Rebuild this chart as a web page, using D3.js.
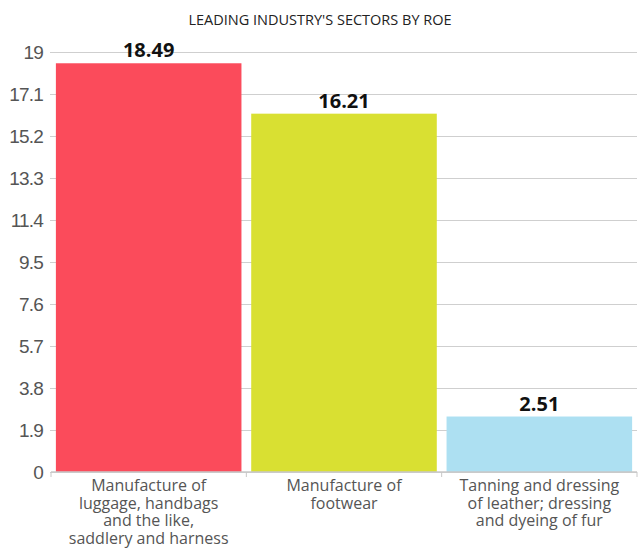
<!DOCTYPE html>
<html>
<head>
<meta charset="utf-8">
<script src="https://cdn.jsdelivr.net/npm/d3@7"></script>
<style>
  body { margin: 0; background: #fff; }
  svg { display: block; font-family: "Open Sans", sans-serif; }
</style>
</head>
<body>
<script>
// chart data
var categories = [
  ["Manufacture of", "luggage, handbags", "and the like,", "saddlery and harness"],
  ["Manufacture of", "footwear"],
  ["Tanning and dressing", "of leather; dressing", "and dyeing of fur"]
];
var roeValues = [18.49, 16.21, 2.51];
var barColors = ["#fb4b5b", "#d9e032", "#ade0f2"];
var yTicks = [0, 1.9, 3.8, 5.7, 7.6, 9.5, 11.4, 13.3, 15.2, 17.1, 19];
var chartTitle = "LEADING INDUSTRY'S SECTORS BY ROE";

var width = 643, height = 548;
var padding = { left: 51, right: 6, up: 52, down: 76 };

var svg = d3.select("body").append("svg")
    .attr("width", width).attr("height", height);

var xscale = d3.scaleBand()
    .domain(d3.range(categories.length))
    .range([padding.left, width - padding.right])
    .paddingInner(0.05)
    .paddingOuter(0.025);

var yscale = d3.scaleLinear()
    .domain([0, 19])
    .range([height - padding.down, padding.up]);

// title
svg.append("text")
    .attr("x", 320).attr("y", 25)
    .attr("text-anchor", "middle")
    .style("font-size", "14.5px")
    .style("fill", "#222")
    .text(chartTitle);

// gridlines + y labels
var yaxis = d3.axisLeft(yscale)
    .tickValues(yTicks)
    .tickFormat(function(d) { return d; })
    .tickSize(-(width - padding.right - padding.left + 1))
    .tickPadding(7);

var yg = svg.append("g")
    .attr("class", "yaxis")
    .attr("transform", "translate(" + (padding.left - 1) + ",0)")
    .call(yaxis);
yg.select(".domain").remove();
yg.selectAll(".tick line").attr("stroke", "#cfcfcf");
yg.selectAll(".tick text")
    .style("font-size", "19px")
    .style("fill", "#555")
    .style("letter-spacing", "-0.8px");

// bars
svg.selectAll("rect.bar")
    .data(roeValues)
    .enter().append("rect")
    .attr("class", "bar")
    .attr("x", function(d, i) { return xscale(i); })
    .attr("width", xscale.bandwidth())
    .attr("y", function(d) { return yscale(d); })
    .attr("height", function(d) { return yscale(0) - yscale(d); })
    .style("fill", function(d, i) { return barColors[i]; });

// value labels
svg.selectAll("text.value")
    .data(roeValues)
    .enter().append("text")
    .attr("class", "value")
    .attr("x", function(d, i) { return xscale(i) + xscale.bandwidth() / 2; })
    .attr("y", function(d) { return yscale(d) - 6; })
    .attr("text-anchor", "middle")
    .style("font-size", "20px")
    .style("font-weight", "bold")
    .style("fill", "#111")
    .text(function(d) { return d.toFixed(2); });

// x axis line and boundary ticks
var base = yscale(0);
svg.append("line")
    .attr("x1", padding.left).attr("x2", width - padding.right)
    .attr("y1", base).attr("y2", base)
    .attr("stroke", "#c8c8c8").attr("stroke-width", 1.5);

var bounds = d3.range(categories.length + 1).map(function(i) {
  return padding.left + i * (width - padding.right - padding.left) / categories.length;
});
svg.selectAll("line.xtick")
    .data(bounds)
    .enter().append("line")
    .attr("class", "xtick")
    .attr("x1", function(d) { return d; }).attr("x2", function(d) { return d; })
    .attr("y1", base).attr("y2", base + 5)
    .attr("stroke", "#c8c8c8");

// category labels
var catg = svg.selectAll("text.cat")
    .data(categories)
    .enter().append("text")
    .attr("class", "cat")
    .attr("text-anchor", "middle")
    .style("font-size", "16px")
    .style("fill", "#555");

catg.selectAll("tspan")
    .data(function(d, i) { return d.map(function(line) { return { line: line, i: i }; }); })
    .enter().append("tspan")
    .attr("x", function(d) { return xscale(d.i) + xscale.bandwidth() / 2; })
    .attr("y", function(d, j) { return base + 19 + j * 17.5; })
    .text(function(d) { return d.line; });
</script>
</body>
</html>
